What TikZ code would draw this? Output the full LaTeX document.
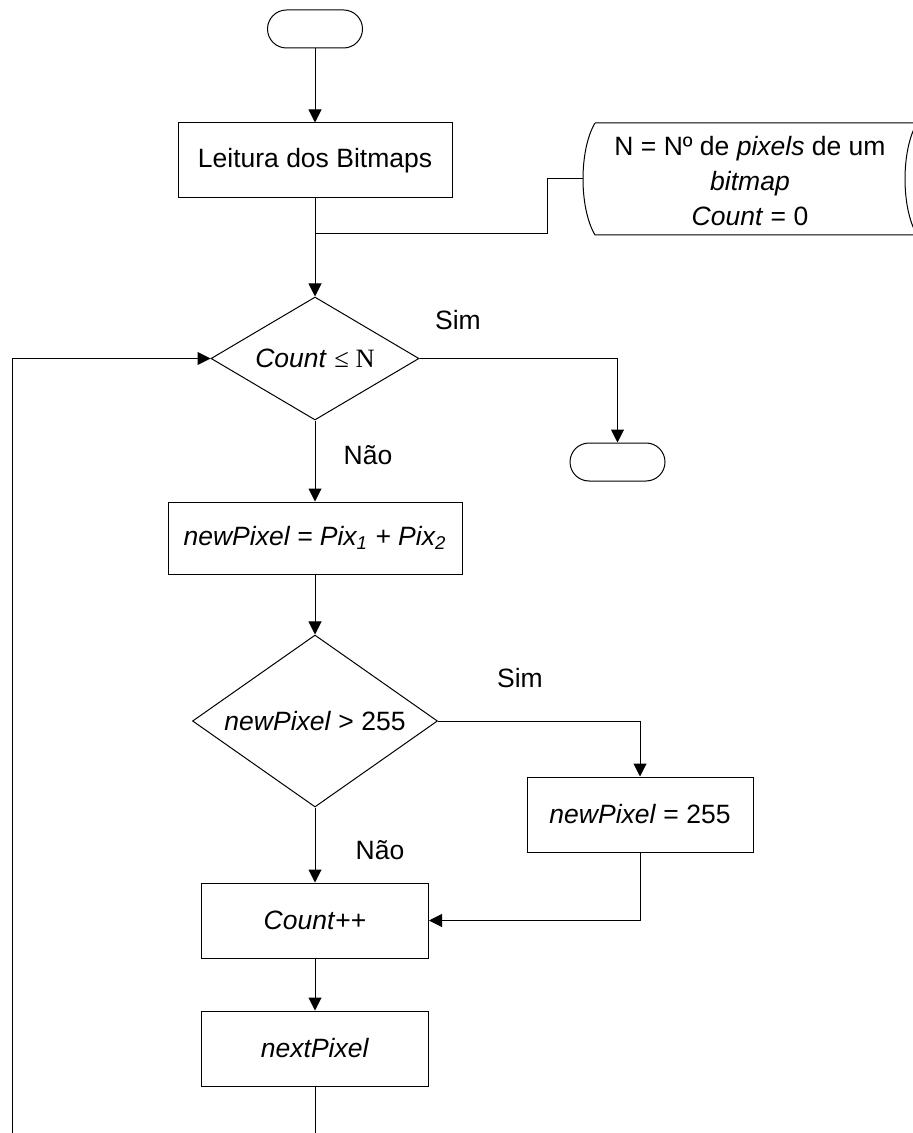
\documentclass[tikz,border=0pt]{standalone}
\usepackage{fontspec}
\setmainfont{Liberation Sans}
\newfontfamily\timesfont{Liberation Serif}
\usetikzlibrary{shapes.geometric,arrows.meta}

\tikzset{
  every node/.style={font=\fontsize{13.25}{17.5}\selectfont},
  flowline/.style={line width=0.5pt},
  arrowline/.style={flowline,-{Triangle[length=6.5pt,width=6.5pt]}},
  terminal/.style={draw,line width=0.5pt,rectangle,rounded corners=9.5pt,minimum width=47.5pt,minimum height=19pt},
  procbox/.style={draw,line width=0.5pt,rectangle,minimum height=37.5pt,inner sep=0pt},
  decision/.style={draw,line width=0.5pt,diamond,aspect=1.5,inner sep=0pt},
  answer/.style={inner sep=0pt}
}

\begin{document}
\begin{tikzpicture}[x=0.5pt,y=-0.5pt]
	\useasboundingbox (0,0) rectangle (912,1133);
	% main column
	\node[terminal] (start) at (315,29) {};
	\node[procbox,minimum width=137pt] (read) at (315,160.5) {Leitura dos Bitmaps};
	\node[decision,minimum width=104pt,minimum height=61.5pt] (cond) at (315,358.5) {\textit{Count} {\timesfont ≤ N}};
	\node[terminal] (stop) at (617.5,462) {};
	\node[procbox,minimum width=147pt,minimum height=36pt] (sum) at (315,538) {\textit{newPixel = Pix\textsubscript{1} + Pix\textsubscript{2}}};
	\node[decision,minimum width=122.5pt,minimum height=86pt] (limit) at (315,721) {\textit{newPixel} > 255};
	\node[procbox,minimum width=113pt] (clamp) at (640,814.5) {\textit{newPixel} = 255};
	\node[procbox,minimum width=113.5pt] (incr) at (315,920.5) {\textit{Count}++};
	\node[procbox,minimum width=113.5pt] (next) at (315,1048.5) {\textit{nextPixel}};
	% initial values (display shape)
	\draw[flowline] (595,123) -- (917,123) .. controls (901,150) and (901,208) .. (917,235) -- (595,235) .. controls (579,208) and (579,150) .. (595,123);
	\node[align=center] (init) at (750,181) {N = Nº de \textit{pixels} de um\\\textit{bitmap}\\\textit{Count} = 0};
	\coordinate (initw) at (583,179);
	\coordinate (join) at (315,234);
	% answers
	\node[answer] (yes1) at (458,320) {Sim};
	\node[answer] (no1) at (368,455) {Não};
	\node[answer] (yes2) at (520,678) {Sim};
	\node[answer] (no2) at (380,850) {Não};
	% connectors
	\draw[arrowline] (start) -- (read);
	\draw[arrowline] (read) -- (cond);
	\draw[flowline] (initw) -- ++(-36,0) |- (join);
	\draw[arrowline] (cond.east) -| (stop.north);
	\draw[arrowline] (cond) -- (sum);
	\draw[arrowline] (sum) -- (limit);
	\draw[arrowline] (limit.east) -| (clamp.north);
	\draw[arrowline] (limit) -- (incr);
	\draw[arrowline] (clamp.south) |- (incr.east);
	\draw[arrowline] (incr) -- (next);
	\coordinate (loopend) at (12,1140);
	\coordinate (nextend) at (315,1140);
	\draw[flowline] (next) -- (nextend);
	\draw[arrowline] (loopend) |- (cond.west);
\end{tikzpicture}
\end{document}
